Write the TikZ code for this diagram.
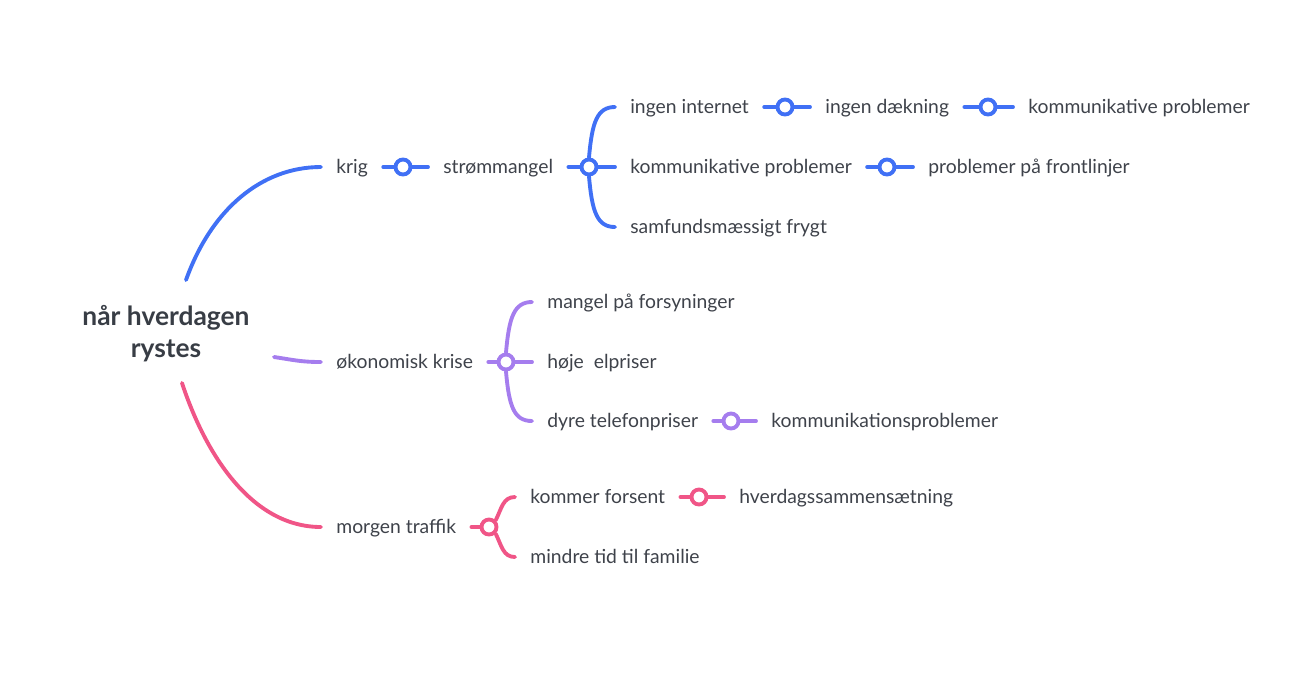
\documentclass[tikz,border=0pt]{standalone}
\usepackage{fontspec}
\setmainfont{Lato}
\usetikzlibrary{positioning}
\definecolor{krigblue}{RGB}{64,112,245}
\definecolor{krisepurple}{RGB}{165,125,238}
\definecolor{trafikpink}{RGB}{240,85,135}
\definecolor{txtgray}{RGB}{62,66,74}
\definecolor{rootgray}{RGB}{56,61,69}

\begin{document}
\begin{tikzpicture}[x=0.02cm, y=-0.02cm,
        topic/.style={anchor=west, inner xsep=0.3cm, inner ysep=2pt, text height=9.4pt, text depth=2pt, text=txtgray, font=\fontsize{11}{13}\selectfont},
        root_topic/.style={align=center, text=rootgray, font=\fontsize{15}{18.2}\selectfont\bfseries},
        hub/.style={circle, draw=#1, fill=white, line width=2.2pt, minimum size=0.3cm, inner sep=0pt},
        link_line/.style={draw=#1, line width=2.2pt, line cap=round}
        ]
            \useasboundingbox (0,0) rectangle (1314,691);

            % root
            \node[root_topic] (root) at (166,334) {når hverdagen\\rystes};

            % krig
            \node[topic]           (krig)     at (321,167)  {krig};
            \node[hub=krigblue]    (hub_1)    at (403,167)  {};
            \node[topic]           (strom)    at (428,167)  {strømmangel};
            \node[hub=krigblue]    (hub_2)    at (589,167)  {};
            \node[topic]           (internet) at (615,107)  {ingen internet};
            \node[hub=krigblue]    (hub_3)    at (785,107)  {};
            \node[topic]           (daekning) at (810,107)  {ingen dækning};
            \node[hub=krigblue]    (hub_4)    at (988,107)  {};
            \node[topic]           (komm_2)   at (1013,107) {kommunikative problemer};
            \node[topic]           (komm_1)   at (615,167)  {kommunikative problemer};
            \node[hub=krigblue]    (hub_5)    at (887,167)  {};
            \node[topic]           (front)    at (913,167)  {problemer på frontlinjer};
            \node[topic]           (frygt)    at (615,227)  {samfundsmæssigt frygt};
            % økonomisk krise
            \node[topic]           (krise)    at (321,362)  {økonomisk krise};
            \node[hub=krisepurple] (hub_6)    at (506,362)  {};
            \node[topic]           (mangel)   at (532,302)  {mangel på forsyninger};
            \node[topic]           (elpris)   at (532,362)  {høje~ elpriser};
            \node[topic]           (telefon)  at (532,421)  {dyre telefonpriser};
            \node[hub=krisepurple] (hub_7)    at (731,421)  {};
            \node[topic]           (kommprob) at (756,421)  {kommunikationsproblemer};
            % morgen traffik
            \node[topic]           (traffik)  at (321,527)  {morgen traffik};
            \node[hub=trafikpink]  (hub_8)    at (489,527)  {};
            \node[topic]           (forsent)  at (515,497)  {kommer forsent};
            \node[hub=trafikpink]  (hub_9)    at (699,497)  {};
            \node[topic]           (hverdag)  at (724,497)  {hverdagssammensætning};
            \node[topic]           (familie)  at (515,557)  {mindre tid til familie};

            % Lines
            \draw[link_line=krigblue] ([shift={(20,-54)}]root.center) .. controls +(25,-70) and +(-60,0) .. (krig.west);
            \draw[link_line=krisepurple] ([shift={(108,23)}]root.center) .. controls +(20,3) and +(-20,0) .. (krise.west);
            \draw[link_line=trafikpink] ([shift={(16,49)}]root.center) .. controls +(23,70) and +(-70,0) .. (traffik.west);

            \draw[link_line=krigblue] (krig) -- (hub_1) -- (strom);
            \draw[link_line=krigblue] (strom) -- (hub_2) -- (komm_1);
            \draw[link_line=krigblue] (hub_2.north) .. controls +(3,-35) and +(-18,0) .. (internet.west);
            \draw[link_line=krigblue] (hub_2.south) .. controls +(3,35) and +(-18,0) .. (frygt.west);
            \draw[link_line=krigblue] (internet) -- (hub_3) -- (daekning);
            \draw[link_line=krigblue] (daekning) -- (hub_4) -- (komm_2);
            \draw[link_line=krigblue] (komm_1) -- (hub_5) -- (front);

            \draw[link_line=krisepurple] (krise) -- (hub_6) -- (elpris);
            \draw[link_line=krisepurple] (hub_6.north) .. controls +(3,-35) and +(-18,0) .. (mangel.west);
            \draw[link_line=krisepurple] (hub_6.south) .. controls +(3,35) and +(-18,0) .. (telefon.west);
            \draw[link_line=krisepurple] (telefon) -- (hub_7) -- (kommprob);

            \draw[link_line=trafikpink] (traffik) -- (hub_8);
            \draw[link_line=trafikpink] (hub_8.north east) .. controls +(6,-12) and +(-12,0) .. (forsent.west);
            \draw[link_line=trafikpink] (hub_8.south east) .. controls +(6,12) and +(-12,0) .. (familie.west);
            \draw[link_line=trafikpink] (forsent) -- (hub_9) -- (hverdag);
        \end{tikzpicture}
\end{document}
